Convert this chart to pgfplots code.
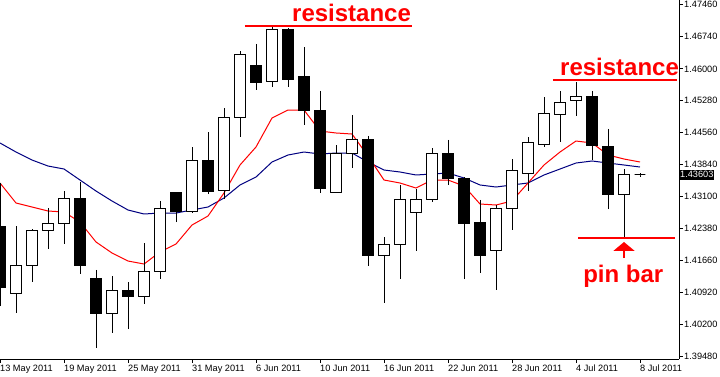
\documentclass[border=0pt]{standalone}
\usepackage{pgfplots}
\pgfplotsset{compat=1.18}
\usepgfplotslibrary{statistics}
\usepackage{pgfplotstable}
\usetikzlibrary{arrows.meta}
\usepackage{fontspec}
\setmainfont{Liberation Sans}

\pgfplotstableread{
i red blue
0 1.43410 1.44319
1 1.42956 1.44114
2 1.42865 1.43932
3 1.42774 1.43796
4 1.42751 1.43728
5 1.42524 1.43478
6 1.42070 1.43228
7 1.41820 1.43001
8 1.41638 1.42797
9 1.41570 1.42706
10 1.41843 1.42728
11 1.42024 1.42728
12 1.42456 1.42797
13 1.42660 1.42865
14 1.43183 1.43069
15 1.43819 1.43365
16 1.44228 1.43546
17 1.44887 1.43887
18 1.45068 1.44046
19 1.45068 1.44114
20 1.44591 1.44069
21 1.44546 1.44091
22 1.44523 1.44091
23 1.44023 1.43887
24 1.43478 1.43705
25 1.43410 1.43660
26 1.43296 1.43592
27 1.43478 1.43614
28 1.43478 1.43637
29 1.43342 1.43524
30 1.42933 1.43365
31 1.42910 1.43319
32 1.43001 1.43365
33 1.43410 1.43410
34 1.43819 1.43592
35 1.44114 1.43728
36 1.44364 1.43864
37 1.44319 1.43910
38 1.44046 1.43864
39 1.43955 1.43819
40 1.43887 1.43773
}\ma

\pgfplotsset{candle/.style={draw=black, line width=1pt,
  boxplot/draw direction=y, boxplot/box extend=0.66, boxplot/whisker extend=0}}
% #1 index, #2 open, #3 high, #4 low, #5 close
\newcommand\up[5]{\addplot[candle,fill=white,boxplot prepared={draw position=#1,lower whisker=#4,lower quartile=#2,median=#2,upper quartile=#5,upper whisker=#3}] coordinates {};}
\newcommand\dn[5]{\addplot[candle,fill=black,boxplot prepared={draw position=#1,lower whisker=#4,lower quartile=#5,median=#5,upper quartile=#2,upper whisker=#3}] coordinates {};}

\begin{document}
\begin{tikzpicture}
\useasboundingbox (0,-17pt) rectangle (720pt,359pt);
\begin{axis}[
 at={(0,0)}, anchor=south west,
 scale only axis, width=679pt, height=359pt,
 xmin=0, xmax=42.4375, ymin=1.39412, ymax=1.47567,
 axis x line*=bottom, axis y line*=right,
 clip mode=individual,
 tick align=outside, major tick length=3.5pt,
 xtick={0,4,...,40},
 xticklabels={13 May 2011,19 May 2011,25 May 2011,31 May 2011,6 Jun 2011,10 Jun 2011,16 Jun 2011,22 Jun 2011,28 Jun 2011,4 Jul 2011,8 Jul 2011},
 ytick={1.3948,1.402,1.4092,1.4166,1.4238,1.431,1.4384,1.4456,1.4528,1.46,1.4674,1.4746},
 yticklabels={1.39480,1.40200,1.40920,1.41660,1.42380,1.43100,1.43840,1.44560,1.45280,1.46000,1.46740,1.47460},
 tick label style={font=\fontsize{9.2}{10}\selectfont, inner sep=0pt, text=black},
 xticklabel style={anchor=north west, yshift=-2.5pt},
 yticklabel style={anchor=west, xshift=1.5pt},
 axis line style={line width=1pt, black},
 tick style={line width=1pt, black},
]
\addplot[draw={rgb,255:red,0;green,0;blue,128}, line width=1pt] table[x=i, y=blue] {\ma};
\addplot[draw={rgb,255:red,255;green,0;blue,0}, line width=1pt] table[x=i, y=red] {\ma};

\dn{0}{1.42433}{1.43410}{1.40616}{1.41025}
\up{1}{1.40911}{1.42433}{1.40457}{1.41525}
\up{2}{1.41525}{1.42365}{1.41161}{1.42342}
\up{3}{1.42342}{1.42842}{1.41911}{1.42479}
\up{4}{1.42479}{1.43228}{1.42024}{1.43047}
\dn{5}{1.43069}{1.43433}{1.41343}{1.41547}
\dn{6}{1.41252}{1.41434}{1.39662}{1.40457}
\up{7}{1.40457}{1.41297}{1.40003}{1.40979}
\dn{8}{1.40979}{1.41161}{1.40093}{1.40843}
\up{9}{1.40843}{1.42047}{1.40661}{1.41411}
\up{10}{1.41411}{1.43001}{1.41229}{1.42842}
\dn{11}{1.43183}{1.43183}{1.42524}{1.42774}
\up{12}{1.42774}{1.44228}{1.42728}{1.43932}
\dn{13}{1.43932}{1.44568}{1.43160}{1.43228}
\up{14}{1.43251}{1.45114}{1.43047}{1.44887}
\up{15}{1.44887}{1.46408}{1.44455}{1.46318}
\dn{16}{1.46090}{1.46568}{1.45523}{1.45704}
\up{17}{1.45727}{1.46954}{1.45591}{1.46886}
\dn{18}{1.46886}{1.46931}{1.45591}{1.45772}
\dn{19}{1.45818}{1.46499}{1.44728}{1.45068}
\dn{20}{1.45068}{1.45500}{1.43183}{1.43296}
\up{21}{1.43183}{1.44273}{1.43183}{1.44091}
\up{22}{1.44091}{1.44955}{1.43751}{1.44387}
\dn{23}{1.44387}{1.44478}{1.41525}{1.41752}
\up{24}{1.41752}{1.42183}{1.40684}{1.42002}
\up{25}{1.42002}{1.43365}{1.41229}{1.43024}
\up{26}{1.42751}{1.43274}{1.41865}{1.43024}
\up{27}{1.43024}{1.44205}{1.42978}{1.44069}
\dn{28}{1.44069}{1.44387}{1.43365}{1.43501}
\dn{29}{1.43501}{1.43546}{1.41229}{1.42501}
\dn{30}{1.42524}{1.43024}{1.41366}{1.41752}
\up{31}{1.41888}{1.42910}{1.40979}{1.42842}
\up{32}{1.42842}{1.43955}{1.42342}{1.43683}
\up{33}{1.43637}{1.44455}{1.43228}{1.44319}
\up{34}{1.44296}{1.45364}{1.44228}{1.45000}
\up{35}{1.44977}{1.45500}{1.44341}{1.45250}
\up{36}{1.45295}{1.45704}{1.44932}{1.45386}
\dn{37}{1.45364}{1.45500}{1.43932}{1.44273}
\dn{38}{1.44250}{1.44637}{1.42819}{1.43160}
\up{39}{1.43160}{1.43728}{1.42183}{1.43614}
\up{40}{1.43603}{1.43637}{1.43546}{1.43603}

% annotations
\draw[red, line width=2pt] (axis cs:15.31,1.46976) -- (axis cs:25.75,1.46976);
\node[red, anchor=base west, inner sep=0pt, font=\fontsize{24}{28}\selectfont\bfseries] at (axis cs:18.25,1.47090) {resistance};
\draw[red, line width=2pt] (axis cs:34.56,1.45750) -- (axis cs:42.31,1.45750);
\node[red, anchor=base west, inner sep=0pt, font=\fontsize{24}{28}\selectfont\bfseries] at (axis cs:35.0,1.45841) {resistance};
\draw[red, line width=2pt] (axis cs:36.125,1.42161) -- (axis cs:42.19,1.42161);
\draw[red, line width=2.5pt, -{Triangle[width=21pt,length=9pt]}] (axis cs:39,1.41706) -- (axis cs:39,1.42070);
\node[red, anchor=base west, inner sep=0pt, font=\fontsize{24}{28}\selectfont\bfseries] at (axis cs:36.44,1.41161) {pin bar};
\node[fill=black, text=white, anchor=west, inner sep=1pt, minimum height=10pt, font=\fontsize{9.2}{10}\selectfont] at (axis cs:42.4375,1.43603) {1.43603};
\end{axis}
\end{tikzpicture}
\end{document}
